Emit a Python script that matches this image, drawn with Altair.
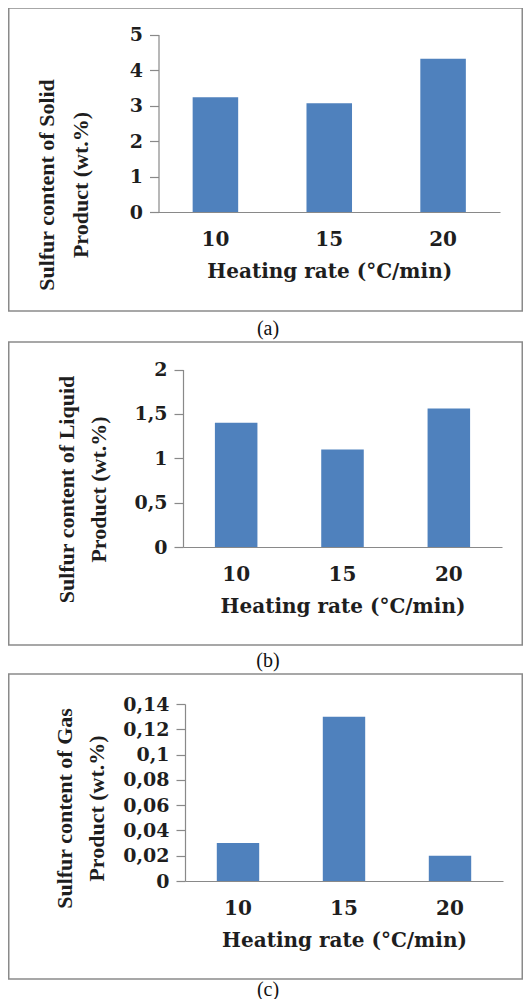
import altair as alt
import pandas as pd

# ---- data ----
rates = ["10", "15", "20"]
solid = [3.23, 3.06, 4.32]
liquid = [1.40, 1.10, 1.56]
gas = [0.03, 0.13, 0.02]

ticks_a = [0, 1, 2, 3, 4, 5]
ticks_b = [0, 0.5, 1, 1.5, 2]
ticks_c = [0, 0.02, 0.04, 0.06, 0.08, 0.1, 0.12, 0.14]

titles_a = ["Sulfur content of Solid", "Product (wt.%)"]
titles_b = ["Sulfur content of Liquid", "Product (wt.%)"]
titles_c = ["Sulfur content of Gas", "Product (wt.%)"]
x_title = "Heating rate (°C/min)"
captions = ["(a)", "(b)", "(c)"]

BAR = "#4F81BD"
AXIS = "#898989"
TEXT = "#1e1e1e"
FRAME = "#8a8a8a"

W, H = 515, 991          # whole drawing (page coords minus the 8px margin)
M = 8


def frame(top, bottom):
    return alt.Chart(pd.DataFrame({"k": [0]})).mark_rect(
        fill="white", fillOpacity=0, stroke=FRAME, strokeWidth=1.5
    ).encode(
        x=alt.value(0.75), x2=alt.value(W - 0.75),
        y=alt.value(top - M), y2=alt.value(bottom - M),
    )


def caption(text, y):
    return alt.Chart(pd.DataFrame({"caption": [text]})).mark_text(
        font="Liberation Serif", fontSize=20, color="#111111",
        baseline="middle", align="center"
    ).encode(x=alt.value(268 - M), y=alt.value(y - M), text="caption:N")


def bars(values, ticks, ymax, ytitle, ax_x, right, ytop, ybot,
         title_x, title_mid_y, line_h):
    df = pd.DataFrame({"rate": rates, "value": values})
    return alt.Chart(df).mark_bar(color=BAR).encode(
        x=alt.X(
            "rate:N", sort=rates,
            scale=alt.Scale(range=[ax_x - M, right - M],
                            paddingInner=0.6, paddingOuter=0.3),
            axis=alt.Axis(
                orient="bottom", offset=(ybot - M) - H,
                title=x_title, labelAngle=0, ticks=False, tickSize=0,
                labelPadding=27, labelBaseline="middle",
                labelFont="DejaVu Serif", labelFontWeight="bold",
                labelFontSize=20, labelColor=TEXT,
                titleFont="DejaVu Serif", titleFontWeight="bold",
                titleFontSize=20, titleColor=TEXT,
                titleY=59, titleBaseline="middle",
                domainColor=AXIS, domainWidth=1.2,
            ),
        ),
        y=alt.Y(
            "value:Q",
            scale=alt.Scale(domain=[0, ymax], nice=False, zero=True,
                            range=[ybot - M, ytop - M]),
            axis=alt.Axis(
                orient="left", offset=-(ax_x - M),
                title=ytitle, values=ticks, grid=False,
                labelExpr="replace(toString(datum.value), '.', ',')",
                tickSize=9, tickColor=AXIS, tickWidth=1.2,
                labelPadding=7,
                labelFont="DejaVu Serif", labelFontWeight="bold",
                labelFontSize=19, labelColor=TEXT,
                titleFont="Liberation Serif", titleFontWeight="bold",
                titleFontSize=22, titleColor=TEXT,
                titleAngle=-90, titleAlign="center", titleBaseline="middle",
                titleX=title_x - ax_x, titleY=title_mid_y - M,
                titleLineHeight=line_h,
                domainColor=AXIS, domainWidth=1.2,
            ),
        ),
    )


layers = [
    frame(8, 311), frame(342, 645), frame(674, 979),
    bars(solid, ticks_a, 5, titles_a, 158.5, 500, 34.5, 212, 46, 184.5, 34),
    bars(liquid, ticks_b, 2, titles_b, 183, 502, 369.5, 547, 66, 489, 32),
    bars(gas, ticks_c, 0.14, titles_c, 185, 503, 704, 881, 64, 808, 32),
    caption(captions[0], 329), caption(captions[1], 661), caption(captions[2], 990),
]

chart = alt.layer(*layers).resolve_scale(
    x="independent", y="independent"
).resolve_axis(
    x="independent", y="independent"
).properties(
    width=W, height=H, autosize=alt.AutoSizeParams(type="none")
).configure(
    padding=0, background="white"
).configure_view(stroke=None)

chart.save("out.html", embed_options={"renderer": "svg", "actions": False})
